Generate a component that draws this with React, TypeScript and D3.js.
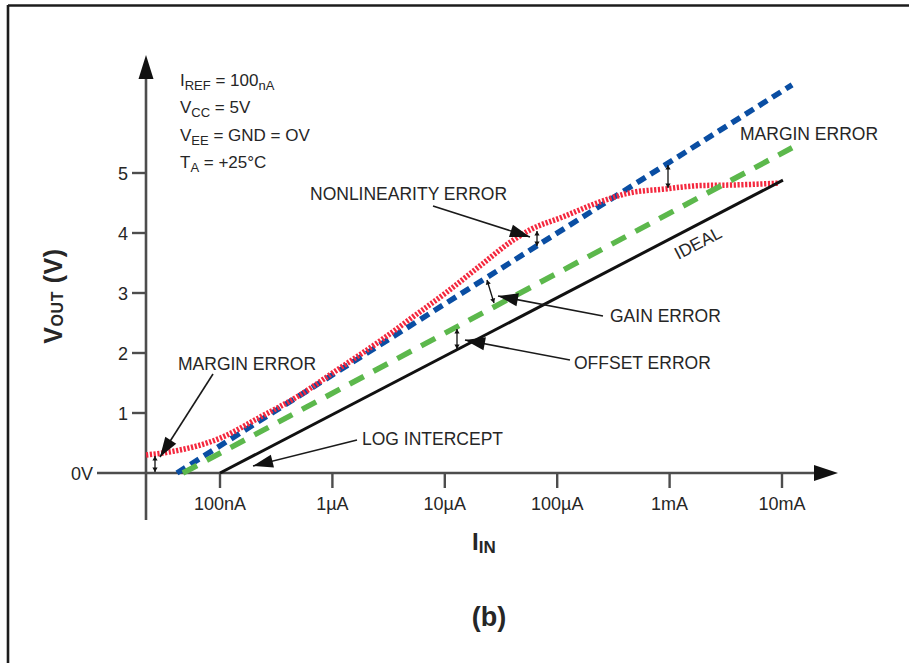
import React from "react";
import * as d3 from "d3";

// ---- data ----
const xTickValues = [1e-7, 1e-6, 1e-5, 1e-4, 1e-3, 1e-2];
const xTickLabels = ["100nA", "1µA", "10µA", "100µA", "1mA", "10mA"];
const yTickValues = [0, 1, 2, 3, 4, 5];
const yTickLabels = ["0V", "1", "2", "3", "4", "5"];

const idealCurrent = [1e-7, 1.02e-2];
const idealVolts = [0, 4.88];
const offsetCurrent = [4.68e-8, 1.23e-2];
const offsetVolts = [0, 5.42];
const gainCurrent = [4.14e-8, 1.23e-2];
const gainVolts = [0, 6.47];
const actualCurrent = [
  2.2e-8, 3.8e-8, 1e-7, 2.27e-7, 5.15e-7, 1.01e-6, 2.65e-6, 5.2e-6, 1.05e-5,
  2.05e-5, 4.05e-5, 5.7e-5, 1.13e-4, 2.26e-4, 4.45e-4, 8.7e-4, 1.86e-3,
  3.66e-3, 9.2e-3,
];
const actualVolts = [
  0.3, 0.36, 0.58, 0.93, 1.3, 1.67, 2.2, 2.6, 3.02, 3.45, 3.88, 4.05, 4.27,
  4.5, 4.67, 4.73, 4.79, 4.8, 4.83,
];

const FONT = "'Liberation Sans', Arial, Helvetica, sans-serif";
const TXT = "#262626";
const AX = "#4d4d4d";

function head(tx: number, ty: number, fx: number, fy: number, len: number, hw: number) {
  const dx = tx - fx;
  const dy = ty - fy;
  const d = Math.hypot(dx, dy);
  const ux = dx / d;
  const uy = dy / d;
  const bx = tx - ux * len;
  const by = ty - uy * len;
  return `${tx},${ty} ${bx - uy * hw},${by + ux * hw} ${bx + uy * hw},${by - ux * hw}`;
}

function Leader({ x1, y1, x2, y2 }: { x1: number; y1: number; x2: number; y2: number }) {
  return (
    <g>
      <line x1={x1} y1={y1} x2={x2} y2={y2} stroke="#1a1a1a" strokeWidth={1.6} />
      <polygon points={head(x2, y2, x1, y1, 20, 6.5)} fill="#111" />
    </g>
  );
}

function DoubleArrow({ x1, y1, x2, y2 }: { x1: number; y1: number; x2: number; y2: number }) {
  return (
    <g>
      <line x1={x1} y1={y1} x2={x2} y2={y2} stroke="#111" strokeWidth={1.3} />
      <polygon points={head(x1, y1, x2, y2, 4.5, 2.6)} fill="#111" />
      <polygon points={head(x2, y2, x1, y1, 4.5, 2.6)} fill="#111" />
    </g>
  );
}

export default function App() {
  const x = d3.scaleLog().domain([1e-7, 1e-2]).range([220, 782]);
  const y = d3.scaleLinear().domain([0, 5]).range([473, 173]);
  const zip = (a: number[], b: number[]) => a.map((v, i) => [v, b[i]] as [number, number]);
  const straight = d3
    .line<[number, number]>()
    .x((d) => x(d[0]))
    .y((d) => y(d[1]));
  const smooth = d3
    .line<[number, number]>()
    .x((d) => x(d[0]))
    .y((d) => y(d[1]))
    .curve(d3.curveMonotoneX);

  const idealAngle =
    (Math.atan2(y(idealVolts[1]) - y(idealVolts[0]), x(idealCurrent[1]) - x(idealCurrent[0])) * 180) /
    Math.PI;

  const subSmall = 13;

  return (
    <svg
      width={909}
      height={663}
      style={{ position: "absolute", left: 0, top: 0, background: "#fff" }}
      fontFamily={FONT}
    >
      <rect width={909} height={663} fill="#fff" />
      {/* frame */}
      <line x1={8} y1={5.5} x2={909} y2={5.5} stroke="#1c1c1c" strokeWidth={2.6} />
      <line x1={8} y1={5} x2={8} y2={663} stroke="#1c1c1c" strokeWidth={2.6} />

      {/* axes */}
      <line x1={146} y1={520} x2={146} y2={72} stroke={AX} strokeWidth={2.6} />
      <polygon points="146,55 138.5,79 153.5,79" fill="#111" />
      <line x1={97} y1={y(0)} x2={820} y2={y(0)} stroke={AX} strokeWidth={2.6} />
      <polygon points={`838,${y(0)} 814,${y(0) - 8} 814,${y(0) + 8}`} fill="#111" />

      {yTickValues.map((v, i) => (
        <g key={"y" + v}>
          {v !== 0 && <line x1={132} x2={146} y1={y(v)} y2={y(v)} stroke={AX} strokeWidth={2.4} />}
          <text
            x={v === 0 ? 93 : 128}
            y={y(v) + 6.5}
            textAnchor="end"
            fontSize={18}
            fill={TXT}
          >
            {yTickLabels[i]}
          </text>
        </g>
      ))}
      {xTickValues.map((v, i) => (
        <g key={"x" + v}>
          <line x1={x(v)} x2={x(v)} y1={y(0)} y2={y(0) + 15} stroke={AX} strokeWidth={2.4} />
          <text x={x(v)} y={510} textAnchor="middle" fontSize={18} fill={TXT}>
            {xTickLabels[i]}
          </text>
        </g>
      ))}

      {/* axis titles */}
      <text
        transform="translate(62,296) rotate(-90)"
        textAnchor="middle"
        fontWeight="bold"
        fontSize={25}
        fill={TXT}
        letterSpacing={0.6}
        style={{ whiteSpace: "pre" }}
      >
        V<tspan fontSize={16} dy={1}>OUT</tspan>
        <tspan dy={-1}> (V)</tspan>
      </text>
      <text x={472} y={550} fontWeight="bold" fontSize={24} fill={TXT}>
        I<tspan fontSize={17} dy={3}>IN</tspan>
      </text>
      <text x={489} y={626} textAnchor="middle" fontWeight="bold" fontSize={27} fill={TXT}>
        (b)
      </text>

      {/* conditions */}
      <g fontSize={17} fill={TXT} style={{ whiteSpace: "pre" }}>
        <text x={180} y={86}>
          I<tspan fontSize={subSmall} dy={4}>REF</tspan>
          <tspan dy={-4}> = 100</tspan>
          <tspan fontSize={subSmall} dy={4}>nA</tspan>
        </text>
        <text x={180} y={113}>
          V<tspan fontSize={subSmall} dy={4}>CC</tspan>
          <tspan dy={-4}> = 5V</tspan>
        </text>
        <text x={180} y={141}>
          V<tspan fontSize={subSmall} dy={4}>EE</tspan>
          <tspan dy={-4}> = GND = OV</tspan>
        </text>
        <text x={180} y={168}>
          T<tspan fontSize={subSmall} dy={4}>A</tspan>
          <tspan dy={-4}> = +25°C</tspan>
        </text>
      </g>

      {/* series */}
      <path
        d={straight(zip(gainCurrent, gainVolts)) || ""}
        fill="none"
        stroke="#0a4ea3"
        strokeWidth={5.5}
        strokeDasharray="10 6"
      />
      <path
        d={smooth(zip(actualCurrent, actualVolts)) || ""}
        fill="none"
        stroke="#f4283e"
        strokeWidth={5.5}
        strokeDasharray="2.2 1.6"
      />
      <path
        d={straight(zip(offsetCurrent, offsetVolts)) || ""}
        fill="none"
        stroke="#5cb84c"
        strokeWidth={5.5}
        strokeDasharray="16 11"
      />
      <path
        d={straight(zip(idealCurrent, idealVolts)) || ""}
        fill="none"
        stroke="#111"
        strokeWidth={3}
      />

      {/* annotations */}
      <g fontSize={17.5} fill={TXT}>
        <text x={310} y={199.5}>NONLINEARITY ERROR</text>
        <text x={740} y={139.5}>MARGIN ERROR</text>
        <text x={610} y={321.5}>GAIN ERROR</text>
        <text x={574} y={368.5}>OFFSET ERROR</text>
        <text x={178} y={370}>MARGIN ERROR</text>
        <text x={362} y={444.5}>LOG INTERCEPT</text>
        <text
          transform={`translate(698,243) rotate(${idealAngle})`}
          textAnchor="middle"
          dy={6}
        >
          IDEAL
        </text>
      </g>

      <Leader x1={433} y1={206} x2={530} y2={237} />
      <DoubleArrow x1={537} y1={231} x2={537} y2={246} />

      <DoubleArrow x1={668} y1={165} x2={668} y2={188} />

      <Leader x1={603} y1={316} x2={498} y2={296} />
      <DoubleArrow x1={487} y1={280} x2={494} y2={303} />

      <Leader x1={570} y1={360} x2={465} y2={340} />
      <DoubleArrow x1={457} y1={329} x2={457} y2={349} />

      <Leader x1={213} y1={374} x2={160} y2={457} />
      <DoubleArrow x1={155} y1={456} x2={155} y2={472} />

      <Leader x1={357} y1={440} x2={253} y2={466} />
    </svg>
  );
}
